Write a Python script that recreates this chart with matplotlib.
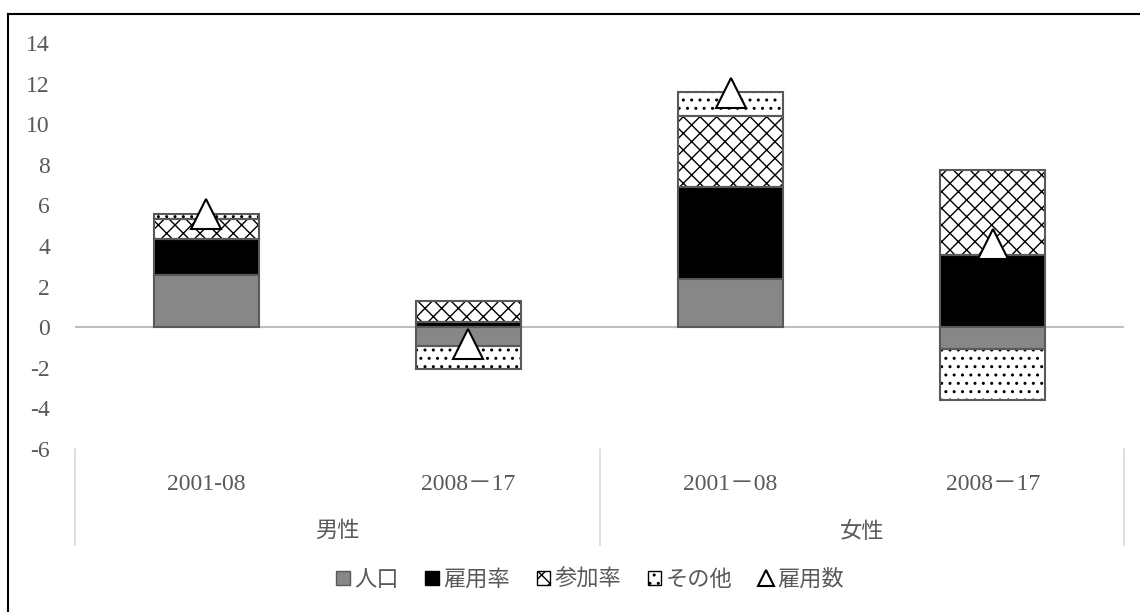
import matplotlib
matplotlib.use("Agg")
import matplotlib.pyplot as plt
import numpy as np
from matplotlib.patches import Patch
from matplotlib.lines import Line2D

plt.rcParams['font.family'] = ['Liberation Serif', 'Noto Sans CJK JP']
plt.rcParams['axes.unicode_minus'] = False
plt.rcParams['hatch.linewidth'] = 1.0

periods = ['2001-08', '2008－17', '2001－08', '2008－17']
groups = ['男性', '女性']
series_names = ['人口', '雇用率', '参加率', 'その他']
jinkou = [2.55, -0.92, 2.36, -1.07]
koyouritsu = [1.8, 0.25, 4.55, 3.55]
sankaritsu = [0.97, 1.03, 3.5, 4.2]
sonota = [0.28, -1.15, 1.2, -2.53]
koyousu = [5.6, -0.84, 11.55, 4.1]

fills = ['#878787', 'black', 'white', 'white']
hatches = [None, None, 'xx', '..']
edge = '#595959'
txt = '#595959'

fig = plt.figure(figsize=(11.4, 6.12), dpi=100)
ax = fig.add_axes([75/1140, 1-449/612, 1049/1140, 406/612])

x = np.arange(len(periods))
w = 0.4
pos_bottom = np.zeros(len(x))
neg_bottom = np.zeros(len(x))
for vals, fc, h in zip([jinkou, koyouritsu, sankaritsu, sonota], fills, hatches):
    vals = np.array(vals)
    bottom = np.where(vals >= 0, pos_bottom, neg_bottom)
    ax.bar(x, vals, w, bottom=bottom, color=fc, hatch=h, edgecolor='black',
           linewidth=0, zorder=2)
    ax.bar(x, vals, w, bottom=bottom, fill=False, edgecolor=edge,
           linewidth=1.5, zorder=3)
    pos_bottom += np.where(vals >= 0, vals, 0)
    neg_bottom += np.where(vals < 0, vals, 0)

ax.plot(x, koyousu, linestyle='none', marker='^', markersize=21,
        markerfacecolor='white', markeredgecolor='black', markeredgewidth=1.5,
        zorder=4)

ax.axhline(0, color='#bfbfbf', linewidth=1.5, zorder=1)
ax.set_xlim(-0.5, 3.5)
ax.set_ylim(-6, 14)
ax.set_yticks(range(-6, 15, 2))
ax.tick_params(axis='y', length=0, pad=18, labelsize=17, labelcolor=txt)
ax.set_xticks([])
for s in ax.spines.values():
    s.set_visible(False)

# multi-level category axis
for xs in [-0.5, 1.5, 3.5]:
    ax.plot([xs, xs], [0, -96/406], transform=ax.get_xaxis_transform(),
            color='#d9d9d9', linewidth=1.2, clip_on=False)
for xi, p in zip(x, periods):
    ax.text(xi, -35/406, p, transform=ax.get_xaxis_transform(), ha='center',
            va='center', fontsize=17, color=txt)
for gi, g in enumerate(groups):
    ax.text(gi*2 + 0.5, -83/406, g, transform=ax.get_xaxis_transform(),
            ha='center', va='center', fontsize=16, color=txt)

handles = [Patch(facecolor=fills[i], hatch=hatches[i], edgecolor=edge if i == 0 else 'black',
                 linewidth=1) for i in range(4)]
handles.append(Line2D([], [], linestyle='none', marker='^', markersize=11,
                      markerfacecolor='white', markeredgecolor='black',
                      markeredgewidth=1.5))
fig.legend(handles, series_names + ['雇用数'], loc='center', bbox_to_anchor=(590/1140, 1-580/612),
           ncol=5, frameon=False, fontsize=16, labelcolor=txt, handlelength=0.6,
           handleheight=0.6, handletextpad=0.2, columnspacing=1.2)

# chart frame (left and top edges visible)
fig.add_artist(Line2D([8/1140, 8/1140], [0, 1-14/612], color='black', linewidth=1.5))
fig.add_artist(Line2D([8/1140, 1], [1-14/612, 1-14/612], color='black', linewidth=1.5))

fig.savefig('out.png', dpi=100)
